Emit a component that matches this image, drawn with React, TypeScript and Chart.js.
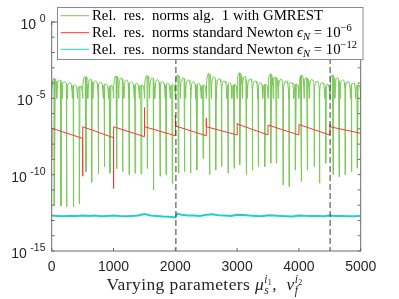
import React, { useEffect, useRef } from 'react';
import { Chart, registerables } from 'chart.js';
Chart.register(...registerables);

// ---------- data (exponents of 10) ----------
const X_MIN = 0;
const X_MAX = 5000;
const X_TICKS = [0, 1000, 2000, 3000, 4000, 5000];
const Y_LABEL_EXPS = [0, -5, -10, -15];
const Y_MINOR_EXPS = [0, -1, -2, -3, -4, -5, -6, -7, -8, -9, -10, -11, -12, -13, -14, -15];
const DASHED_X = [2010, 4505];

// green: arch peaks (6 arches per 500 block)
const GREEN_PEAKS = [
  -3.69, -3.80, -3.91, -3.97, -4.13, -4.19,
  -3.58, -3.75, -3.86, -3.95, -4.05, -4.15,
  -3.54, -3.68, -3.80, -3.92, -4.02, -4.12,
  -3.50, -3.66, -3.78, -3.90, -4.00, -4.10,
  -3.45, -3.66, -3.80, -3.92, -4.02, -4.12,
  -3.35, -3.58, -3.72, -3.86, -3.98, -4.08,
  -3.33, -3.56, -3.72, -3.86, -3.98, -4.08,
  -3.40, -3.60, -3.74, -3.86, -3.96, -4.06,
  -3.47, -3.64, -3.76, -3.88, -3.98, -4.08,
  -3.45, -3.64, -3.78, -3.90, -4.00, -4.10,
];
const GREEN_TROUGH = -5.0;
const ARCH_T = [0, 0.06, 0.16, 0.3, 0.5, 0.7, 0.84, 0.94];
const ARCH_F = [0, 0.55, 0.85, 0.97, 1, 0.97, 0.85, 0.55];
// deep dips of the green series
const DIP_X = [
  42, 150, 242, 350, 447, 555, 647, 755, 852, 943,
  1051, 1148, 1251, 1348, 1445, 1548, 1645, 1753, 1850, 1952,
  2049, 2149, 2249, 2349, 2449, 2557, 2654, 2751, 2854, 2951,
  3042, 3150, 3247, 3344, 3447, 3544, 3635, 3743, 3840, 3943,
  4040, 4137, 4245, 4337, 4434, 4553, 4650, 4747, 4849, 4946,
];
const DIP_E = [
  -12.0, -12.05, -12.1, -12.1, -11.9, -9.8, -10.5, -9.95, -9.5, -9.9,
  -9.6, -9.8, -10.0, -9.9, -9.95, -9.6, -11.0, -10.1, -10.0, -10.6,
  -9.9, -9.8, -9.9, -9.7, -8.93, -10.0, -9.7, -9.47, -9.9, -9.58,
  -9.36, -10.0, -9.7, -9.47, -9.47, -9.25, -9.25, -10.67, -10.78, -9.7,
  -10.46, -9.7, -9.47, -10.56, -9.25, -10.0, -10.13, -10.0, -9.8, -9.58,
];

// red: sawtooth blocks of 500
const RED_BLOCK_X = [0, 500, 1000, 1500, 2000, 2500, 3000, 3500, 4000, 4500];
const RED_JUMP = [-8.9, -10.1, -10.9, -5.6, -6.1, -6.3, -6.63, -6.75, -6.72, -6.68];
const RED_START = [-6.96, -6.86, -6.86, -6.86, -6.81, -6.86, -6.68, -6.75, -6.72, -6.86];
const RED_END = [-7.62, -7.58, -7.51, -7.45, -7.45, -7.40, -7.40, -7.40, -7.40, -7.29];

// cyan
const CYAN_X = [
  0, 100, 200, 300, 400, 500, 600, 700, 800, 900, 1000, 1100, 1200, 1300, 1400, 1500, 1600,
  1700, 1800, 1900, 2000, 2030, 2100, 2200, 2300, 2400, 2500, 2600, 2700, 2800, 2900, 3000,
  3100, 3200, 3300, 3400, 3500, 3600, 3700, 3800, 3900, 4000, 4100, 4200, 4300, 4400, 4500,
  4600, 4700, 4800, 4900, 5000,
];
const CYAN_E = [
  -12.68, -12.70, -12.72, -12.69, -12.71, -12.68, -12.70, -12.67, -12.72, -12.70, -12.68, -12.71,
  -12.72, -12.70, -12.68, -12.58, -12.68, -12.71, -12.74, -12.76, -12.80, -12.55, -12.62, -12.67,
  -12.68, -12.70, -12.62, -12.60, -12.66, -12.68, -12.70, -12.62, -12.64, -12.68, -12.70, -12.72,
  -12.66, -12.68, -12.70, -12.72, -12.74, -12.67, -12.69, -12.70, -12.71, -12.72, -12.68, -12.70,
  -12.71, -12.72, -12.72, -12.71,
];

const GREEN = '#7cc95a';
const RED = '#ff3434';
const CYAN = '#1fcfcf';
const SANS = '"Liberation Sans", Arial, sans-serif';
const SERIF = '"Liberation Serif", "Times New Roman", serif';

const p10 = (e: number) => Math.pow(10, e);

function buildGreen() {
  const pts: { x: number; y: number }[] = [];
  const w = 500 / 6;
  GREEN_PEAKS.forEach((pk, i) => {
    const x0 = i * w;
    ARCH_T.forEach((t, j) => {
      pts.push({ x: x0 + t * w, y: p10(GREEN_TROUGH + (pk - GREEN_TROUGH) * ARCH_F[j]) });
    });
  });
  pts.push({ x: X_MAX, y: p10(GREEN_TROUGH) });
  DIP_X.forEach((x, i) => pts.push({ x, y: p10(DIP_E[i]) }));
  pts.sort((a, b) => a.x - b.x);
  return pts;
}

function buildRed() {
  const pts: { x: number; y: number }[] = [];
  RED_BLOCK_X.forEach((x0, i) => {
    pts.push({ x: x0 + 1, y: p10(RED_JUMP[i]) });
    pts.push({ x: x0 + 3, y: p10(RED_START[i]) });
    pts.push({ x: x0 + 499, y: p10(RED_END[i]) });
  });
  return pts;
}

function buildCyan() {
  return CYAN_X.map((x, i) => ({ x, y: p10(CYAN_E[i]) }));
}

type Seg = { t: string; size: number; italic?: boolean; dy?: number; family?: string; adv?: boolean };
function drawRich(ctx: CanvasRenderingContext2D, segs: Seg[], x: number, y: number) {
  let cx = x;
  for (const s of segs) {
    ctx.font = `${s.italic ? 'italic ' : ''}${s.size}px ${s.family || SERIF}`;
    ctx.fillText(s.t, cx, y + (s.dy || 0));
    if (s.adv !== false) cx += ctx.measureText(s.t).width;
  }
  return cx - x;
}

const overlay = {
  id: 'overlay',
  afterDatasetsDraw(chart: any) {
    const { ctx, chartArea: a, scales } = chart;
    const xs = scales.x;
    ctx.save();
    ctx.strokeStyle = '#3a3a3a';
    ctx.lineWidth = 1;
    ctx.setLineDash([6, 3]);
    for (const v of DASHED_X) {
      const px = xs.getPixelForValue(v);
      ctx.beginPath();
      ctx.moveTo(px, a.top);
      ctx.lineTo(px, a.bottom);
      ctx.stroke();
    }
    ctx.restore();
  },
  afterDraw(chart: any) {
    const { ctx, chartArea: a, scales } = chart;
    const xs = scales.x;
    const ys = scales.y;
    ctx.save();
    // box
    ctx.strokeStyle = '#6a6a6a';
    ctx.lineWidth = 1;
    ctx.strokeRect(a.left, a.top, a.right - a.left, a.bottom - a.top);
    // ticks
    const tl = 3;
    ctx.beginPath();
    for (const e of Y_MINOR_EXPS) {
      const py = ys.getPixelForValue(p10(e));
      ctx.moveTo(a.left, py); ctx.lineTo(a.left + tl, py);
      ctx.moveTo(a.right, py); ctx.lineTo(a.right - tl, py);
    }
    for (const v of X_TICKS) {
      const px = xs.getPixelForValue(v);
      ctx.moveTo(px, a.bottom); ctx.lineTo(px, a.bottom - tl);
      ctx.moveTo(px, a.top); ctx.lineTo(px, a.top + tl);
    }
    ctx.stroke();

    // y labels
    ctx.fillStyle = '#262626';
    ctx.textBaseline = 'middle';
    for (const e of Y_LABEL_EXPS) {
      const py = ys.getPixelForValue(p10(e));
      ctx.textAlign = 'right';
      ctx.font = `10.5px ${SANS}`;
      const sup = String(e);
      ctx.fillText(sup, 45.5, py - 3);
      const sw = ctx.measureText(sup).width;
      ctx.font = `14px ${SANS}`;
      ctx.fillText('10', 45.5 - sw - 3.5, py + 3);
    }
    // x labels
    ctx.textAlign = 'center';
    ctx.font = `14px ${SANS}`;
    for (const v of X_TICKS) {
      ctx.fillText(String(v), xs.getPixelForValue(v), 267);
    }

    // x title
    ctx.textAlign = 'left';
    ctx.textBaseline = 'alphabetic';
    ctx.fillStyle = '#262626';
    const TS = 17.5;
    (ctx as any).letterSpacing = '0.4px';
    drawRich(ctx, [
      { t: 'Varying parameters ', size: TS },
      { t: '\u03bc', size: TS, italic: true },
      { t: 's', size: 11.5, italic: true, dy: 3.5, adv: false },
      { t: 'i', size: 11.5, italic: true, dy: -7 },
      { t: '1', size: 8, dy: -5 },
      { t: ',  ', size: TS },
      { t: '\u03bd', size: TS, italic: true },
      { t: 'f', size: 11.5, italic: true, dy: 4, adv: false },
      { t: 'i', size: 11.5, italic: true, dy: -7 },
      { t: '2', size: 8, dy: -5 },
    ], 106.5, 290);
    (ctx as any).letterSpacing = '0px';

    // legend
    const lx = 57.5, ly = 7.5, lw = 305.5, lh = 52;
    ctx.fillStyle = '#ffffff';
    ctx.fillRect(lx, ly, lw, lh);
    ctx.strokeStyle = '#8a8a8a';
    ctx.strokeRect(lx, ly, lw, lh);
    const rows = [15.7, 32.7, 49.3];
    const cols = [GREEN, RED, CYAN];
    rows.forEach((ry, i) => {
      ctx.strokeStyle = cols[i];
      ctx.lineWidth = 1;
      ctx.beginPath();
      ctx.moveTo(60.7, ry);
      ctx.lineTo(89.3, ry);
      ctx.stroke();
    });
    ctx.fillStyle = '#000000';
    const LS = 14.8;
    drawRich(ctx, [{ t: 'Rel.  res.  norms alg.  1 with GMREST', size: LS }], 92, rows[0] + 4.5);
    drawRich(ctx, [
      { t: 'Rel.  res.  norms standard Newton ', size: LS },
      { t: '\u03f5', size: LS, italic: true },
      { t: 'N', size: 10.5, italic: true, dy: 3 },
      { t: ' = 10', size: LS },
      { t: '\u22126', size: 10.5, dy: -6 },
    ], 92, rows[1] + 4.5);
    drawRich(ctx, [
      { t: 'Rel.  res.  norms standard Newton ', size: LS },
      { t: '\u03f5', size: LS, italic: true },
      { t: 'N', size: 10.5, italic: true, dy: 3 },
      { t: ' = 10', size: LS },
      { t: '\u221212', size: 10.5, dy: -6 },
    ], 92, rows[2] + 4.5);
    ctx.restore();
  },
};

export default function App() {
  const ref = useRef<HTMLCanvasElement>(null);
  useEffect(() => {
    const chart = new Chart(ref.current!, {
      type: 'line',
      data: {
        datasets: [
          { label: 'green', data: buildGreen(), borderColor: GREEN, borderWidth: 1, pointRadius: 0, tension: 0, order: 3 },
          { label: 'red', data: buildRed(), borderColor: RED, borderWidth: 1, pointRadius: 0, tension: 0, order: 2 },
          { label: 'cyan', data: buildCyan(), borderColor: CYAN, borderWidth: 2, pointRadius: 0, tension: 0, order: 1 },
        ],
      },
      options: {
        responsive: false,
        animation: false,
        devicePixelRatio: 1,
        events: [],
        layout: { padding: { left: 0, top: 22, right: 38.3, bottom: 0 } },
        plugins: { legend: { display: false }, tooltip: { enabled: false }, title: { display: false } },
        scales: {
          x: {
            type: 'linear', min: X_MIN, max: X_MAX,
            grid: { display: false }, border: { display: false }, ticks: { display: false },
            afterFit: (s: any) => { s.height = 48; },
          },
          y: {
            type: 'logarithmic', min: 1e-15, max: 1,
            grid: { display: false }, border: { display: false }, ticks: { display: false },
            afterFit: (s: any) => { s.width = 51.7; },
          },
        },
      },
      plugins: [overlay],
    } as any);
    return () => chart.destroy();
  }, []);
  return (
    <div style={{ position: 'fixed', left: 0, top: 0, width: 399, height: 299, background: '#fff' }}>
      <canvas ref={ref} width={399} height={299} style={{ width: 399, height: 299, display: 'block' }} />
    </div>
  );
}
